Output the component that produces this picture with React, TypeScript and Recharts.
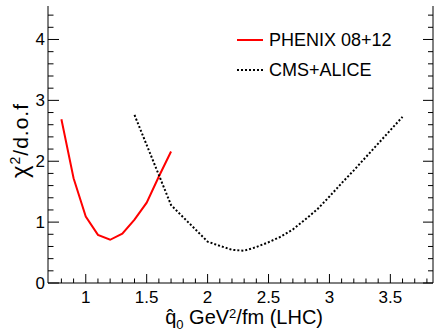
import React from 'react';
import { LineChart, Line, XAxis, YAxis, Legend, Label } from 'recharts';

// chi2/dof scan
const phenixQ = [0.8, 0.9, 1.0, 1.1, 1.2, 1.3, 1.4, 1.5, 1.6, 1.7];
const phenixChi2 = [2.69, 1.72, 1.09, 0.79, 0.71, 0.81, 1.04, 1.32, 1.75, 2.16];
const cmsQ = [1.4, 1.7, 2.0, 2.1, 2.2, 2.3, 2.4, 2.5, 2.6, 2.7, 2.8, 2.9, 3.0, 3.1, 3.2, 3.3, 3.4, 3.5, 3.6];
const cmsChi2 = [2.76, 1.28, 0.68, 0.61, 0.545, 0.53, 0.59, 0.67, 0.76, 0.88, 1.04, 1.21, 1.42, 1.64, 1.85, 2.07, 2.29, 2.51, 2.73];

const seriesNames = ['PHENIX 08+12', 'CMS+ALICE'];

const xMajorTicks = [1, 1.5, 2, 2.5, 3, 3.5];
const xAllTicks = [0.8, 0.9, 1, 1.1, 1.2, 1.3, 1.4, 1.5, 1.6, 1.7, 1.8, 1.9, 2, 2.1, 2.2, 2.3, 2.4, 2.5, 2.6, 2.7, 2.8, 2.9, 3, 3.1, 3.2, 3.3, 3.4, 3.5, 3.6, 3.7, 3.8];
const yMajorTicks = [0, 1, 2, 3, 4];
const yAllTicks = [0, 0.2, 0.4, 0.6, 0.8, 1, 1.2, 1.4, 1.6, 1.8, 2, 2.2, 2.4, 2.6, 2.8, 3, 3.2, 3.4, 3.6, 3.8, 4, 4.2, 4.4];

const xDomain = [0.69, 3.85];
const yDomain = [0, 4.55];

const phenixData = phenixQ.map((q, i) => ({ q, chi2: phenixChi2[i] }));
const cmsData = cmsQ.map((q, i) => ({ q, chi2: cmsChi2[i] }));

const FONT = '"Liberation Sans", Arial, Helvetica, sans-serif';

const isMajor = (v: number, majors: number[]) => majors.some(m => Math.abs(m - v) < 1e-6);

// ROOT style ticks: pointing inwards
const BottomTick = ({ x, y, payload }: any) => {
    const major = isMajor(payload.value, xMajorTicks);
    return (
        <g>
            <line x1={x} y1={y} x2={x} y2={y - (major ? 9 : 4.5)} stroke="#000" />
            {major && (
                <text x={x} y={y + 19.5} textAnchor="middle" fontSize={17} fontFamily={FONT} fill="#000">
                    {payload.value}
                </text>
            )}
        </g>
    );
};

const TopTick = ({ x, y, payload }: any) => {
    const major = isMajor(payload.value, xMajorTicks);
    return <line x1={x} y1={y} x2={x} y2={y + (major ? 9 : 4.5)} stroke="#000" />;
};

const LeftTick = ({ x, y, payload }: any) => {
    const major = isMajor(payload.value, yMajorTicks);
    return (
        <g>
            <line x1={x} y1={y} x2={x + (major ? 11 : 5.5)} y2={y} stroke="#000" />
            {major && (
                <text x={x - 3} y={y + 6} textAnchor="end" fontSize={17} fontFamily={FONT} fill="#000">
                    {payload.value}
                </text>
            )}
        </g>
    );
};

const RightTick = ({ x, y, payload }: any) => {
    const major = isMajor(payload.value, yMajorTicks);
    return <line x1={x} y1={y} x2={x - (major ? 10 : 5)} y2={y} stroke="#000" />;
};

const XTitle = (props: any) => {
    const vb = props.viewBox || { x: 48, y: 283, width: 385, height: 49 };
    const x = vb.x + vb.width - 110;
    const y = vb.y + 40.5;
    return (
        <text x={x} y={y} textAnchor="end" fontSize={20} fontFamily={FONT} fill="#000">
            {'q\u0302'}
            <tspan dy={5} fontSize={13}>0</tspan>
            <tspan dy={-5}> GeV</tspan>
            <tspan dy={-6} fontSize={13}>2</tspan>
            <tspan dy={6}>/fm (LHC)</tspan>
        </text>
    );
};

const YTitle = (props: any) => {
    const vb = props.viewBox || { x: 0, y: 6, width: 48, height: 277 };
    const x = vb.x + 27.5;
    const y = vb.y + 97;
    return (
        <text
            x={x}
            y={y}
            transform={`rotate(-90, ${x}, ${y})`}
            textAnchor="end"
            fontSize={21}
            letterSpacing={1}
            fontFamily={FONT}
            fill="#000"
        >
            <tspan fontSize={24}>{'\u03c7'}</tspan>
            <tspan dy={-8} fontSize={14}>2</tspan>
            <tspan dy={8}>/d.o.f</tspan>
        </text>
    );
};

const LegendBox = () => (
    <div style={{ fontFamily: FONT, fontSize: 18, color: '#000' }}>
        {seriesNames.map((name, i) => (
            <div key={name} style={{ display: 'flex', alignItems: 'center', height: 30 }}>
                <svg width={26} height={30} style={{ marginRight: 6, flexShrink: 0 }}>
                    <line
                        x1={0}
                        y1={15}
                        x2={26}
                        y2={15}
                        stroke={i === 0 ? '#ff0000' : '#000'}
                        strokeWidth={2}
                        strokeDasharray={i === 0 ? undefined : '2 2'}
                    />
                </svg>
                <span>{name}</span>
            </div>
        ))}
    </div>
);

export default function App() {
    return (
        <div style={{ position: 'absolute', left: 0, top: 0, width: 443, height: 332, background: '#fff' }}>
            <LineChart width={443} height={332} margin={{ top: 6, right: 0, bottom: 0, left: 0 }}>
                <XAxis
                    dataKey="q"
                    type="number"
                    domain={xDomain}
                    allowDataOverflow
                    ticks={xAllTicks}
                    interval={0}
                    height={49}
                    tickSize={0}
                    tickMargin={0}
                    tickLine={false}
                    axisLine={{ stroke: '#000' }}
                    tick={<BottomTick />}
                >
                    <Label content={<XTitle />} />
                </XAxis>
                <XAxis
                    xAxisId="top"
                    orientation="top"
                    dataKey="q"
                    type="number"
                    domain={xDomain}
                    allowDataOverflow
                    ticks={xAllTicks}
                    interval={0}
                    height={0}
                    tickSize={0}
                    tickMargin={0}
                    tickLine={false}
                    axisLine={{ stroke: '#000' }}
                    tick={<TopTick />}
                />
                <YAxis
                    type="number"
                    domain={yDomain}
                    allowDataOverflow
                    ticks={yAllTicks}
                    interval={0}
                    width={48}
                    tickSize={0}
                    tickMargin={0}
                    tickLine={false}
                    axisLine={{ stroke: '#000' }}
                    tick={<LeftTick />}
                >
                    <Label content={<YTitle />} />
                </YAxis>
                <YAxis
                    yAxisId="right"
                    orientation="right"
                    type="number"
                    domain={yDomain}
                    allowDataOverflow
                    ticks={yAllTicks}
                    interval={0}
                    width={10}
                    tickSize={0}
                    tickMargin={0}
                    tickLine={false}
                    axisLine={{ stroke: '#000' }}
                    tick={<RightTick />}
                />
                <Legend
                    layout="vertical"
                    align="center"
                    verticalAlign="middle"
                    wrapperStyle={{ left: 237, top: 25, width: 200 }}
                    content={<LegendBox />}
                />
                <Line
                    data={phenixData}
                    dataKey="chi2"
                    name={seriesNames[0]}
                    type="linear"
                    stroke="#ff0000"
                    strokeWidth={2}
                    dot={false}
                    isAnimationActive={false}
                />
                <Line
                    data={cmsData}
                    dataKey="chi2"
                    name={seriesNames[1]}
                    type="linear"
                    stroke="#000"
                    strokeWidth={2}
                    strokeDasharray="2 2"
                    dot={false}
                    isAnimationActive={false}
                />
            </LineChart>
        </div>
    );
}
